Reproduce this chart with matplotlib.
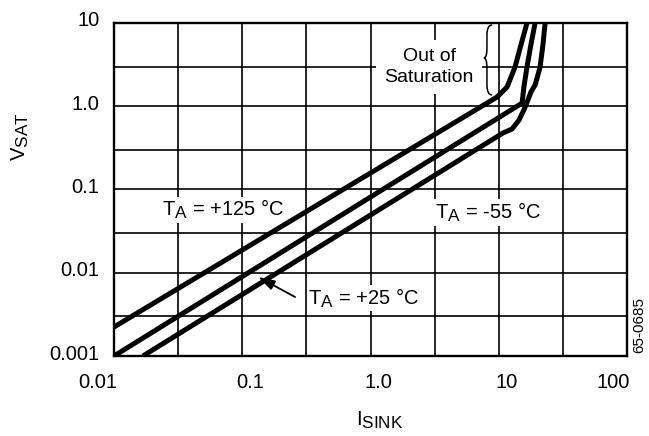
import matplotlib
matplotlib.use('Agg')
import matplotlib.pyplot as plt
import matplotlib._mathtext as mathtext_internals
from matplotlib.path import Path
from matplotlib.patches import PathPatch
from matplotlib.transforms import ScaledTranslation
import numpy as np

# bigger subscripts, closer to the datasheet look
mathtext_internals.SHRINK_FACTOR = 0.85

plt.rcParams['font.family'] = ['Liberation Sans', 'DejaVu Sans']

# data (I_SINK, V_SAT)
isink_125 = [0.01, 9.7, 11.6, 13.4, 14.9, 16.6]
vsat_125 = [0.00223, 1.29, 1.70, 2.96, 5.45, 10.0]

isink_25 = [0.01, 15.2, 15.7, 16.6, 17.8, 19.2]
vsat_25 = [0.001, 1.09, 1.70, 2.96, 5.45, 10.0]

isink_m55 = [0.0168, 10.8, 12.7, 14.4, 14.9, 15.7, 16.9, 17.8, 19.2, 20.2, 21.0, 22.1, 23.0]
vsat_m55 = [0.001, 0.478, 0.533, 0.684, 0.764, 0.90, 1.19, 1.48, 1.80, 2.37, 2.96, 5.45, 10.0]

x_ticks = [0.01, 0.1, 1.0, 10, 100]
x_labels = ['0.01', '0.1', '1.0', '10', '100']
y_ticks = [0.001, 0.01, 0.1, 1.0, 10]
y_labels = ['0.001', '0.01', '0.1', '1.0', '10']
x_minor = [0.01 * np.sqrt(10) * 10**k for k in range(4)]
y_minor = [0.003, 0.03, 0.3, 3.0]

fig = plt.figure(figsize=(6.49, 4.36), dpi=100)
ax = fig.add_axes([114/649, 1 - 356/436, 513/649, 333/436])
ax.set_xscale('log')
ax.set_yscale('log')
ax.set_xlim(0.01, 100)
ax.set_ylim(0.001, 10)

ax.set_xticks(x_ticks)
ax.set_xticklabels(x_labels)
ax.set_yticks(y_ticks)
ax.set_yticklabels(y_labels)
ax.set_xticks(x_minor, minor=True)
ax.set_yticks(y_minor, minor=True)
ax.xaxis.set_minor_formatter(plt.NullFormatter())
ax.yaxis.set_minor_formatter(plt.NullFormatter())
ax.tick_params(which='both', length=0, labelsize=14.5)
ax.tick_params(axis='x', pad=12)
ax.tick_params(axis='y', pad=10.5)

ax.grid(which='both', color='black', linewidth=1.2)
ax.set_axisbelow(True)
for s in ax.spines.values():
    s.set_linewidth(1.7)

# nudge tick labels like the printed sheet
def shift(lbl, dx, dy):
    lbl.set_transform(lbl.get_transform() + ScaledTranslation(dx/100, dy/100, fig.dpi_scale_trans))

xl = ax.get_xticklabels()
xl[0].set_ha('right'); shift(xl[0], 3, 0)
for l in xl[1:4]:
    shift(l, 8, 0)
xl[4].set_ha('right'); shift(xl[4], 3, 0)
for l in ax.get_yticklabels():
    shift(l, 0, 4)

kw = dict(color='black', linewidth=3.6, solid_joinstyle='round', solid_capstyle='butt', zorder=5)
ax.plot(isink_125, vsat_125, **kw)
ax.plot(isink_25, vsat_25, **kw)
ax.plot(isink_m55, vsat_m55, **kw)

ax.text(0.0683, 0.057, r'  T$_\mathregular{A}$ = +125 °C  ', fontsize=14.5, ha='center', va='center',
        bbox=dict(facecolor='white', edgecolor='none', pad=1), zorder=3)
ax.text(7.96, 0.053, r'  T$_\mathregular{A}$ = -55 °C  ', fontsize=14.5, ha='center', va='center',
        bbox=dict(facecolor='white', edgecolor='none', pad=1), zorder=3)
ax.text(0.326, 0.00498, r'T$_\mathregular{A}$ = +25 °C', fontsize=14.5, ha='left', va='center',
        bbox=dict(facecolor='white', edgecolor='none', pad=1), zorder=3)
ax.text(2.86, 2.96, 'Out of\nSaturation', fontsize=14, ha='center', va='center', linespacing=1.25,
        bbox=dict(facecolor='white', edgecolor='none', pad=6), zorder=3)

ax.annotate('', xy=(0.133, 0.0089), xytext=(0.258, 0.00512),
            arrowprops=dict(arrowstyle='-|>,head_length=1.0,head_width=0.3', color='black',
                            lw=1.3, shrinkA=0, shrinkB=0), zorder=6)

# curly brace next to "Out of Saturation"
xe, xb, xt = 0.737, 0.727, 0.721
yt, ym, yb, d = 0.994, 0.895, 0.784, 0.03
verts = [(xe, yt), (xb, yt), (xb, yt - d), (xb, ym + d), (xb, ym), (xt, ym),
         (xb, ym), (xb, ym - d), (xb, yb + d), (xb, yb), (xe, yb)]
codes = [Path.MOVETO, Path.CURVE3, Path.CURVE3, Path.LINETO, Path.CURVE3, Path.CURVE3,
         Path.CURVE3, Path.CURVE3, Path.LINETO, Path.CURVE3, Path.CURVE3]
ax.add_patch(PathPatch(Path(verts, codes), transform=ax.transAxes, fill=False,
                       edgecolor='black', linewidth=1.1, zorder=4, clip_on=False))

fig.text(20/649, 1 - 137/436, r'V$_\mathregular{SAT}$', fontsize=14.5, rotation=90, ha='center', va='center')
fig.text(380/649, 1 - 420/436, r'I$_\mathregular{SINK}$', fontsize=14.5, ha='center', va='center')
fig.text(639/649, 1 - 325/436, '65-0685', fontsize=11, rotation=90, ha='center', va='center')

fig.savefig('out.png', dpi=100)
